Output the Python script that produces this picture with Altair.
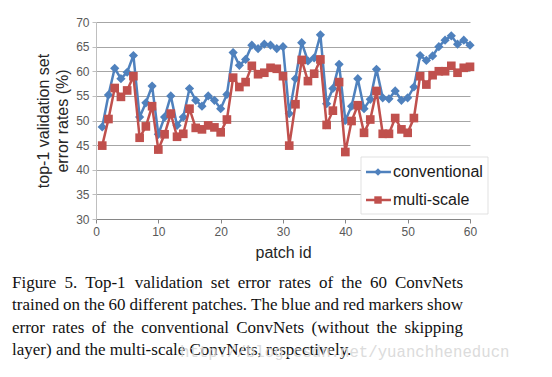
import altair as alt
import pandas as pd

# ---------------- data ----------------
patch = list(range(1, 61))
conventional = [48.7, 55.2, 60.6, 58.5, 59.8, 63.2, 50.7, 53.6, 57.0, 47.2,
                50.7, 55.0, 49.0, 50.7, 56.5, 54.1, 52.9, 55.0, 54.1, 52.4,
                55.3, 63.8, 61.2, 62.4, 65.3, 64.6, 65.5, 65.3, 64.6, 65.0,
                51.4, 58.5, 65.8, 62.1, 62.7, 67.4, 53.4, 56.5, 61.4, 50.0,
                52.9, 58.5, 52.4, 54.3, 60.4, 54.6, 54.4, 56.0, 54.1, 54.6,
                56.8, 63.2, 62.2, 63.1, 65.0, 66.3, 67.2, 65.5, 66.3, 65.3]
multi_scale = [44.9, 50.3, 56.6, 54.8, 56.1, 59.0, 46.5, 48.8, 52.9, 44.1,
               47.2, 51.4, 46.7, 47.3, 52.4, 48.5, 48.2, 49.0, 48.6, 47.6,
               50.2, 58.7, 56.8, 57.8, 61.1, 59.4, 59.7, 60.7, 60.5, 59.0,
               44.9, 53.3, 62.3, 58.0, 59.5, 62.4, 49.1, 52.0, 57.8, 43.6,
               49.9, 53.1, 47.5, 50.2, 56.0, 47.3, 47.3, 50.5, 48.2, 47.5,
               50.5, 59.0, 57.3, 59.2, 60.0, 60.0, 61.1, 59.7, 60.7, 60.9]
x_ticks = [0, 10, 20, 30, 40, 50, 60]
y_ticks = [30, 35, 40, 45, 50, 55, 60, 65, 70]
series_names = ["conventional", "multi-scale"]
y_title = ["top-1 validation set", "error rates (%)"]
x_title = "patch id"
caption_lines = [
    "Figure 5. Top-1 validation set error rates of the 60 ConvNets",
    "trained on the 60 different patches. The blue and red markers show",
    "error rates of the conventional ConvNets (without the skipping",
    "layer) and the multi-scale ConvNets, respectively.",
]
watermark = "http://blog.csdn.net/yuanchheneducn"

BLUE = "#4F81BD"
RED = "#C0504D"
SANS = "Liberation Sans"
SERIF = "Liberation Serif"

W, H = 374, 197
PAD_L, PAD_T = 88, 14

df_c = pd.DataFrame({"patch": patch, "rate": conventional})
df_m = pd.DataFrame({"patch": patch, "rate": multi_scale})

xaxis = alt.Axis(values=x_ticks, title=x_title, grid=False,
                 labelFont=SANS, labelFontSize=12, labelColor="#595959",
                 labelPadding=3, tickSize=4, tickColor="#868686",
                 domainColor="#868686", titleFont=SANS, titleFontSize=16,
                 titleFontWeight="normal", titleColor="#262626",
                 titlePadding=7, labelFlush=False, labelOverlap=False)
yaxis = alt.Axis(values=y_ticks, tickCount=9, title=y_title, grid=True,
                 gridColor="#a6a6a6", gridWidth=1,
                 labelFont=SANS, labelFontSize=12, labelColor="#595959",
                 labelPadding=3, tickSize=4, tickColor="#bfbfbf",
                 domainColor="#bfbfbf", titleFont=SANS, titleFontSize=16,
                 titleFontWeight="normal", titleColor="#262626",
                 titlePadding=5, titleLineHeight=19,
                 labelOverlap=False, labelFlush=False)

def xenc():
    return alt.X("patch:Q", scale=alt.Scale(domain=[0, 60], nice=False), axis=xaxis)

def yenc():
    return alt.Y("rate:Q", scale=alt.Scale(domain=[30, 70], nice=False, zero=False), axis=yaxis)

line_c = alt.Chart(df_c).mark_line(color=BLUE, strokeWidth=2.5).encode(x=xenc(), y=yenc())
pt_c = alt.Chart(df_c).mark_point(shape="diamond", filled=True, size=85, color=BLUE,
                                  opacity=1).encode(x=xenc(), y=yenc())
line_m = alt.Chart(df_m).mark_line(color=RED, strokeWidth=2.5).encode(x=xenc(), y=yenc())
pt_m = alt.Chart(df_m).mark_point(shape="square", filled=True, size=75, color=RED,
                                  opacity=1).encode(x=xenc(), y=yenc())

# ---------------- legend (drawn by hand, Excel style) ----------------
base = alt.Chart(pd.DataFrame({"k": [0]}))
leg_box = base.mark_rect(fill="white", stroke="#d9d9d9", strokeWidth=0.8).encode(
    x=alt.value(361 - 96), x2=alt.value(488 - 96),
    y=alt.value(157 - 22), y2=alt.value(214 - 22))
leg_layers = [leg_box]
for i, (name, col, shp, sz) in enumerate(zip(series_names, [BLUE, RED],
                                             ["diamond", "square"], [55, 55])):
    yy = [150, 178][i]
    leg_layers.append(base.mark_rule(color=col, strokeWidth=2.5).encode(
        x=alt.value(366 - 96), x2=alt.value(391 - 96), y=alt.value(yy)))
    leg_layers.append(base.mark_point(shape=shp, filled=True, size=sz, color=col,
                                      opacity=1).encode(x=alt.value(378 - 96), y=alt.value(yy)))
    leg_layers.append(base.mark_text(text=name, align="left", baseline="middle",
                                     font=SANS, fontSize=16, color="#1a1a1a").encode(
        x=alt.value(393 - 96), y=alt.value(yy)))

# ---------------- caption (justified, Times metrics) ----------------
TIMES = {' ': 250, '.': 250, ',': 250, '-': 333, '(': 333, ')': 333,
         'A': 722, 'C': 667, 'F': 556, 'N': 722, 'T': 611,
         'a': 444, 'b': 500, 'c': 444, 'd': 500, 'e': 444, 'f': 333, 'g': 500,
         'h': 500, 'i': 278, 'j': 278, 'k': 500, 'l': 278, 'm': 778, 'n': 500,
         'o': 500, 'p': 500, 'q': 500, 'r': 333, 's': 389, 't': 278, 'u': 500,
         'v': 500, 'w': 722, 'x': 500, 'y': 500, 'z': 444}
CAP_FS = 17
def wwidth(w):
    return sum(TIMES.get(c, 500) for c in w) * CAP_FS / 1000.0

left, right = 12 - 96, 463 - 96
baselines = [288 - 22, 310.3 - 22, 332.6 - 22, 355 - 22]
rows = []
for li, line in enumerate(caption_lines):
    words = line.split(" ")
    widths = [wwidth(w) for w in words]
    if li < len(caption_lines) - 1:
        gap = (right - left - sum(widths)) / (len(words) - 1)
    else:
        gap = TIMES[' '] * CAP_FS / 1000.0
    xpos = left
    for w, wd in zip(words, widths):
        rows.append({"word": w, "px": xpos, "py": baselines[li]})
        xpos += wd + gap
cap_df = pd.DataFrame(rows)
caption = alt.Chart(cap_df).mark_text(align="left", baseline="alphabetic", font=SERIF,
                                      fontSize=CAP_FS, color="#111111").encode(
    x=alt.X("px:Q", scale=None, axis=None),
    y=alt.Y("py:Q", scale=None, axis=None),
    text="word:N")

wm = base.mark_text(text=watermark, align="left", baseline="alphabetic",
                    font="Liberation Mono", fontSize=15.7, color="#d6d6d6",
                    opacity=0.85).encode(x=alt.value(180 - 96), y=alt.value(357 - 22))

chart = alt.layer(line_c, pt_c, line_m, pt_m, *leg_layers, caption, wm).properties(
    width=W, height=H,
    autosize=alt.AutoSizeParams(type="none"),
    padding={"left": PAD_L, "top": PAD_T, "right": 536 - PAD_L - W, "bottom": 361 - PAD_T - H},
    background="white",
).configure_view(stroke=None)

chart.save("out.html", embed_options={"renderer": "svg", "actions": False})
